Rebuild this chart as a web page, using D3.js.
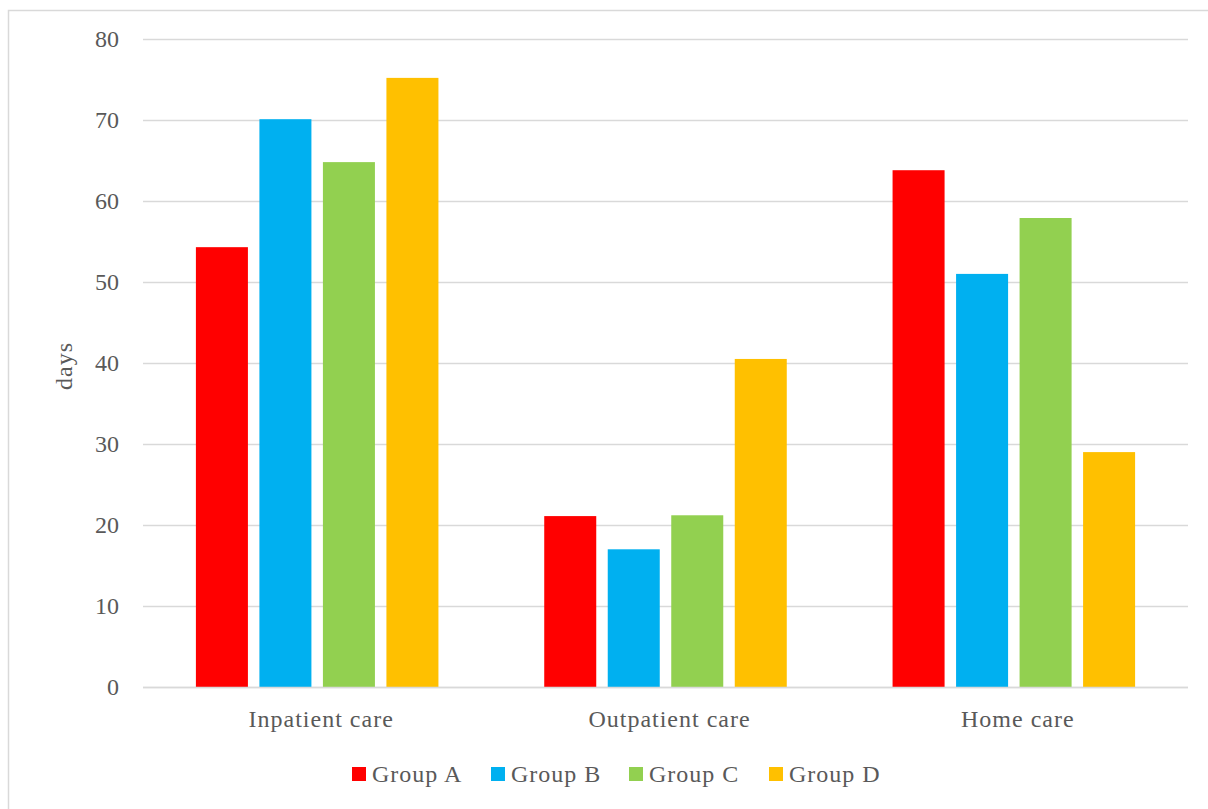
<!DOCTYPE html>
<html>
<head>
<meta charset="utf-8">
<script src="https://cdn.jsdelivr.net/npm/d3@7"></script>
<style>
  html, body { margin: 0; padding: 0; background: #fff; }
  svg text { font-family: "Liberation Serif", "DejaVu Serif", serif; fill: #595959; }
</style>
</head>
<body>
<svg id="chart" width="1208" height="809"></svg>
<script>
// Care settings on the x axis
const categories = ["Inpatient care", "Outpatient care", "Home care"];
// One series per group, values in days
const seriesNames = ["Group A", "Group B", "Group C", "Group D"];
const groupA = [54.3, 21.1, 63.8];
const groupB = [70.1, 17.0, 51.0];
const groupC = [64.8, 21.2, 57.9];
const groupD = [75.2, 40.5, 29.0];
const colors = ["#ff0000", "#00b0f0", "#92d050", "#ffc000"];
const yTicks = [0, 10, 20, 30, 40, 50, 60, 70, 80];

const values = [groupA, groupB, groupC, groupD];
const FONT = '"Liberation Serif", serif';

const svg = d3.select("#chart");

// outer frame
svg.append("rect")
  .attr("x", 8.5).attr("y", 10.5)
  .attr("width", 1220).attr("height", 820)
  .attr("fill", "none").attr("stroke", "#d9d9d9").attr("stroke-width", 1.5);

const plot = { left: 143, right: 1188, top: 39, bottom: 687 };

const x0 = d3.scaleBand().domain(categories).range([plot.left, plot.right]).paddingInner(0).paddingOuter(0);
const x1 = d3.scaleBand().domain(seriesNames).range([0, x0.bandwidth()]).paddingInner(0.181).paddingOuter(0.833);
const y = d3.scaleLinear().domain([0, 80]).range([plot.bottom, plot.top]);

// gridlines
svg.append("g")
  .selectAll("line")
  .data(yTicks)
  .join("line")
  .attr("x1", plot.left).attr("x2", plot.right)
  .attr("y1", d => Math.round(y(d)) + 0.5).attr("y2", d => Math.round(y(d)) + 0.5)
  .attr("stroke", "#d9d9d9").attr("stroke-width", 1.5);

// y axis labels
const yAxis = d3.axisLeft(y).tickValues(yTicks).tickSize(0).tickPadding(0);
const yg = svg.append("g").attr("transform", `translate(119,0)`).call(yAxis);
yg.select(".domain").remove();
yg.selectAll("text").attr("font-size", 24).style("fill", "#595959")
  .style("font-family", FONT);

// bars
const groups = svg.append("g")
  .selectAll("g")
  .data(categories)
  .join("g")
  .attr("transform", c => `translate(${x0(c)},0)`);

groups.selectAll("rect")
  .data((c, i) => seriesNames.map((s, k) => ({ s, k, v: values[k][i] })))
  .join("rect")
  .attr("x", d => x1(d.s))
  .attr("width", x1.bandwidth())
  .attr("y", d => y(d.v))
  .attr("height", d => y(0) - y(d.v))
  .attr("fill", d => colors[d.k]);

// x axis line
svg.append("line")
  .attr("x1", plot.left).attr("x2", plot.right)
  .attr("y1", plot.bottom + 0.5).attr("y2", plot.bottom + 0.5)
  .attr("stroke", "#d9d9d9").attr("stroke-width", 1.5);

// x axis labels
const xAxis = d3.axisBottom(x0).tickSize(0).tickPadding(0);
const xg = svg.append("g").call(xAxis);
xg.select(".domain").remove();
xg.selectAll(".tick").attr("transform", c => `translate(${x0(c) + x0.bandwidth() / 2 + 4},0)`);
xg.selectAll("text").attr("y", 727).attr("dy", 0).attr("font-size", 24)
  .attr("letter-spacing", 1)
  .style("fill", "#595959").style("font-family", FONT);

// y axis title
svg.append("text")
  .attr("transform", `translate(72,366) rotate(-90)`)
  .attr("text-anchor", "middle")
  .attr("font-size", 24)
  .attr("letter-spacing", 1)
  .text("days");

// legend
const legendX = [352, 491, 629, 769];
const legend = svg.append("g")
  .selectAll("g")
  .data(seriesNames)
  .join("g")
  .attr("transform", (d, i) => `translate(${legendX[i]},767)`);
legend.append("rect").attr("width", 14).attr("height", 14).attr("fill", (d, i) => colors[i]);
legend.append("text").attr("x", 20).attr("y", 15)
  .attr("font-size", 24).attr("letter-spacing", 1).text(d => d);
</script>
</body>
</html>
